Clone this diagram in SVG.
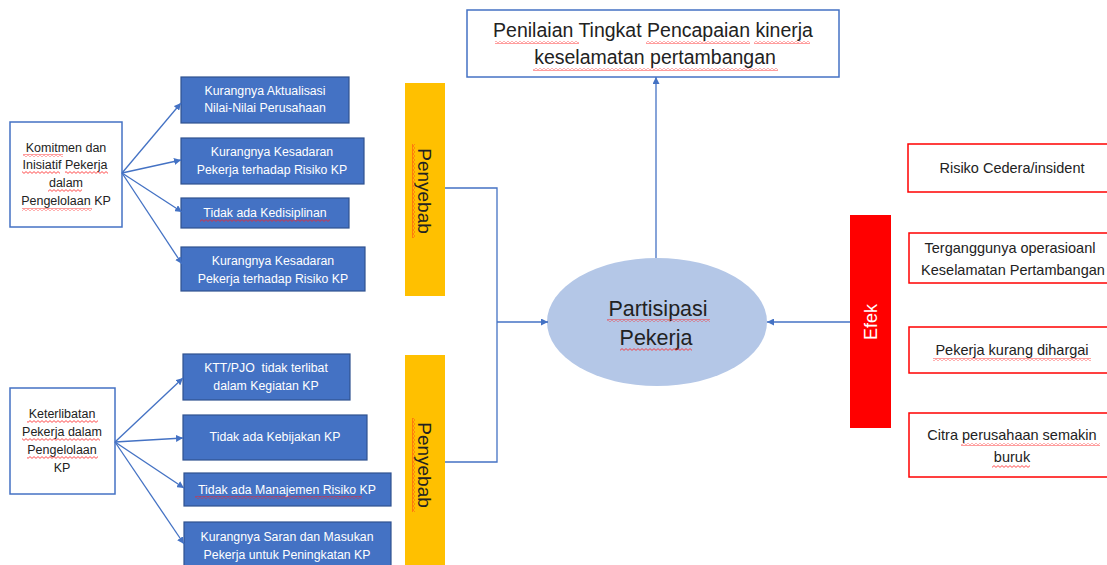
<svg xmlns="http://www.w3.org/2000/svg" width="1107" height="565" viewBox="0 0 1107 565">
<defs>
<marker id="ah" viewBox="0 0 10 10" refX="10" refY="5" markerWidth="7" markerHeight="7" markerUnits="userSpaceOnUse" orient="auto">
<path d="M0,0 L10,5 L0,10 z" fill="#4472c4"/>
</marker>
<pattern id="wv" patternUnits="userSpaceOnUse" width="4" height="3">
<path d="M0,2.4 L2,0.6 L4,2.4" fill="none" stroke="#ff2020" stroke-width="0.8"/>
</pattern>
<pattern id="wvv" patternUnits="userSpaceOnUse" width="3" height="4">
<path d="M0.6,0 L2.4,2 L0.6,4" fill="none" stroke="#ff2020" stroke-width="0.8"/>
</pattern>
<style>
.t{font-family:"Liberation Sans",Arial,sans-serif;}
.lb{fill:#fff;stroke:#4472c4;stroke-width:1.5;}
.bb{fill:#4472c4;stroke:#2f528f;stroke-width:1.2;}
.bt{font-size:12.3px;fill:#fff;text-anchor:middle;}
.lt{font-size:12.5px;fill:#222;text-anchor:middle;}
.rb{fill:#fff;stroke:#ff0000;stroke-width:1.5;}
.rt{font-size:14.5px;fill:#222;text-anchor:middle;}
.yb{fill:#ffc000;}
.c{fill:none;stroke:#4472c4;stroke-width:1.3;}
.w{fill:url(#wv);}
.wv{fill:url(#wvv);}
</style>
</defs>

<g id="title">
<rect x="467" y="10" width="372" height="67" class="lb" stroke-width="1.5"/>
<text class="t" x="653" y="37" font-size="19.5" text-anchor="middle" fill="#222">Penilaian Tingkat Pencapaian kinerja</text>
<text class="t" x="655" y="64" font-size="19.5" text-anchor="middle" fill="#222">keselamatan pertambangan</text>
<rect x="495" y="41" width="84" height="3" class="w"/>
<rect x="646" y="41" width="104" height="3" class="w"/>
<rect x="754" y="41" width="56" height="3" class="w"/>
<rect x="533" y="68" width="245" height="3" class="w"/>
</g>

<g id="left1">
<rect x="10" y="122" width="112" height="105" class="lb"/>
<text class="t lt" x="66" y="152">Komitmen dan</text>
<text class="t lt" x="65" y="169">Inisiatif Pekerja</text>
<text class="t lt" x="66" y="187">dalam</text>
<text class="t lt" x="66" y="205">Pengelolaan KP</text>
<rect x="23" y="154" width="40" height="3" class="w"/>
<rect x="22" y="171" width="38" height="3" class="w"/>
<rect x="65" y="171" width="43" height="3" class="w"/>
<rect x="48" y="189" width="34" height="3" class="w"/>
<rect x="22" y="208" width="70" height="3" class="w"/>
</g>

<g id="boxA">
<rect x="181" y="77" width="168" height="46" class="bb"/>
<text class="t bt" x="265" y="95">Kurangnya Aktualisasi</text>
<text class="t bt" x="265" y="112">Nilai-Nilai Perusahaan</text>
</g>
<g id="boxB">
<rect x="181" y="138" width="183" height="46" class="bb"/>
<text class="t bt" x="272" y="156">Kurangnya Kesadaran</text>
<text class="t bt" x="272" y="174">Pekerja terhadap Risiko KP</text>
</g>
<g id="boxC">
<rect x="181" y="198" width="168" height="30" class="bb"/>
<text class="t bt" x="265" y="217">Tidak ada Kedisiplinan</text>
<rect x="200" y="219" width="130" height="3" class="w"/>
</g>
<g id="boxD">
<rect x="181" y="247" width="184" height="44" class="bb"/>
<text class="t bt" x="273" y="265">Kurangnya Kesadaran</text>
<text class="t bt" x="273" y="283">Pekerja terhadap Risiko KP</text>
</g>

<g id="penyebab1">
<rect x="405" y="83" width="40" height="213" class="yb"/>
<text class="t" transform="translate(418,191) rotate(90)" font-size="19" text-anchor="middle" fill="#222">Penyebab</text>
<rect x="412" y="144" width="3" height="94" class="wv"/>
</g>

<g id="left2">
<rect x="10" y="388" width="105" height="106" class="lb"/>
<text class="t lt" x="62" y="418">Keterlibatan</text>
<text class="t lt" x="62" y="436">Pekerja dalam</text>
<text class="t lt" x="62" y="454">Pengelolaan</text>
<text class="t lt" x="62" y="472">KP</text>
<rect x="27" y="420" width="71" height="3" class="w"/>
<rect x="22" y="438" width="78" height="3" class="w"/>
<rect x="27" y="456" width="71" height="3" class="w"/>
</g>

<g id="boxE">
<rect x="183" y="354" width="167" height="46" class="bb"/>
<text class="t bt" x="266" y="372" xml:space="preserve">KTT/PJO  tidak terlibat</text>
<text class="t bt" x="266" y="390">dalam Kegiatan KP</text>
</g>
<g id="boxF">
<rect x="183" y="415" width="184" height="45" class="bb"/>
<text class="t bt" x="275" y="441">Tidak ada Kebijakan KP</text>
</g>
<g id="boxG">
<rect x="184" y="473" width="207" height="33" class="bb"/>
<text class="t bt" x="287" y="494">Tidak ada Manajemen Risiko KP</text>
<rect x="195" y="496" width="167" height="3" class="w"/>
</g>
<g id="boxH">
<rect x="184" y="522" width="207" height="50" class="bb"/>
<text class="t bt" x="287" y="541">Kurangnya Saran dan Masukan</text>
<text class="t bt" x="287" y="559">Pekerja untuk Peningkatan KP</text>
</g>

<g id="penyebab2">
<rect x="405" y="355" width="40" height="215" class="yb"/>
<text class="t" transform="translate(418,465) rotate(90)" font-size="19" text-anchor="middle" fill="#222">Penyebab</text>
<rect x="412" y="418" width="3" height="94" class="wv"/>
</g>

<g id="center">
<ellipse cx="657" cy="322" rx="110" ry="64" fill="#b4c7e7"/>
<text class="t" x="658" y="316" font-size="21.5" text-anchor="middle" fill="#222">Partisipasi</text>
<text class="t" x="656" y="345" font-size="21.5" text-anchor="middle" fill="#222">Pekerja</text>
<rect x="607" y="319" width="103" height="3" class="w"/>
<rect x="620" y="348" width="72" height="3" class="w"/>
</g>

<g id="efek">
<rect x="850" y="215" width="41" height="213" fill="#ff0000"/>
<text class="t" transform="translate(877,322) rotate(-90)" font-size="18" text-anchor="middle" fill="#fff">Efek</text>
</g>

<g id="r1">
<rect x="908" y="144" width="210" height="48" class="rb"/>
<text class="t rt" x="1012" y="173">Risiko Cedera/insident</text>
</g>
<g id="r2">
<rect x="909" y="233" width="210" height="50" class="rb"/>
<text class="t rt" x="1010" y="253">Terganggunya operasioanl</text>
<text class="t rt" x="1013" y="275">Keselamatan Pertambangan</text>
</g>
<g id="r3">
<rect x="909" y="327" width="210" height="46" class="rb"/>
<text class="t rt" x="1012" y="355">Pekerja kurang dihargai</text>
<rect x="933" y="358" width="158" height="3" class="w"/>
</g>
<g id="r4">
<rect x="909" y="413" width="210" height="64" class="rb"/>
<text class="t rt" x="1012" y="440">Citra perusahaan semakin</text>
<text class="t rt" x="1012" y="462">buruk</text>
<rect x="961" y="443" width="139" height="3" class="w"/>
<rect x="992" y="465" width="38" height="3" class="w"/>
</g>

<g id="connectors">
<path class="c" d="M122,173 L181,103" marker-end="url(#ah)"/>
<path class="c" d="M122,173 L181,160" marker-end="url(#ah)"/>
<path class="c" d="M122,173 L182,212" marker-end="url(#ah)"/>
<path class="c" d="M122,173 L182,264" marker-end="url(#ah)"/>
<path class="c" d="M115,442 L183,378" marker-end="url(#ah)"/>
<path class="c" d="M115,442 L183,438" marker-end="url(#ah)"/>
<path class="c" d="M115,442 L184,488" marker-end="url(#ah)"/>
<path class="c" d="M115,442 L184,544" marker-end="url(#ah)"/>
<path class="c" d="M445,188 L497,188 L497,462 L445,462"/>
<path class="c" d="M497,322 L548,322" marker-end="url(#ah)"/>
<path class="c" d="M850,322 L767,322" marker-end="url(#ah)"/>
<path class="c" d="M656,258 L656,77" marker-end="url(#ah)"/>
</g>
</svg>
